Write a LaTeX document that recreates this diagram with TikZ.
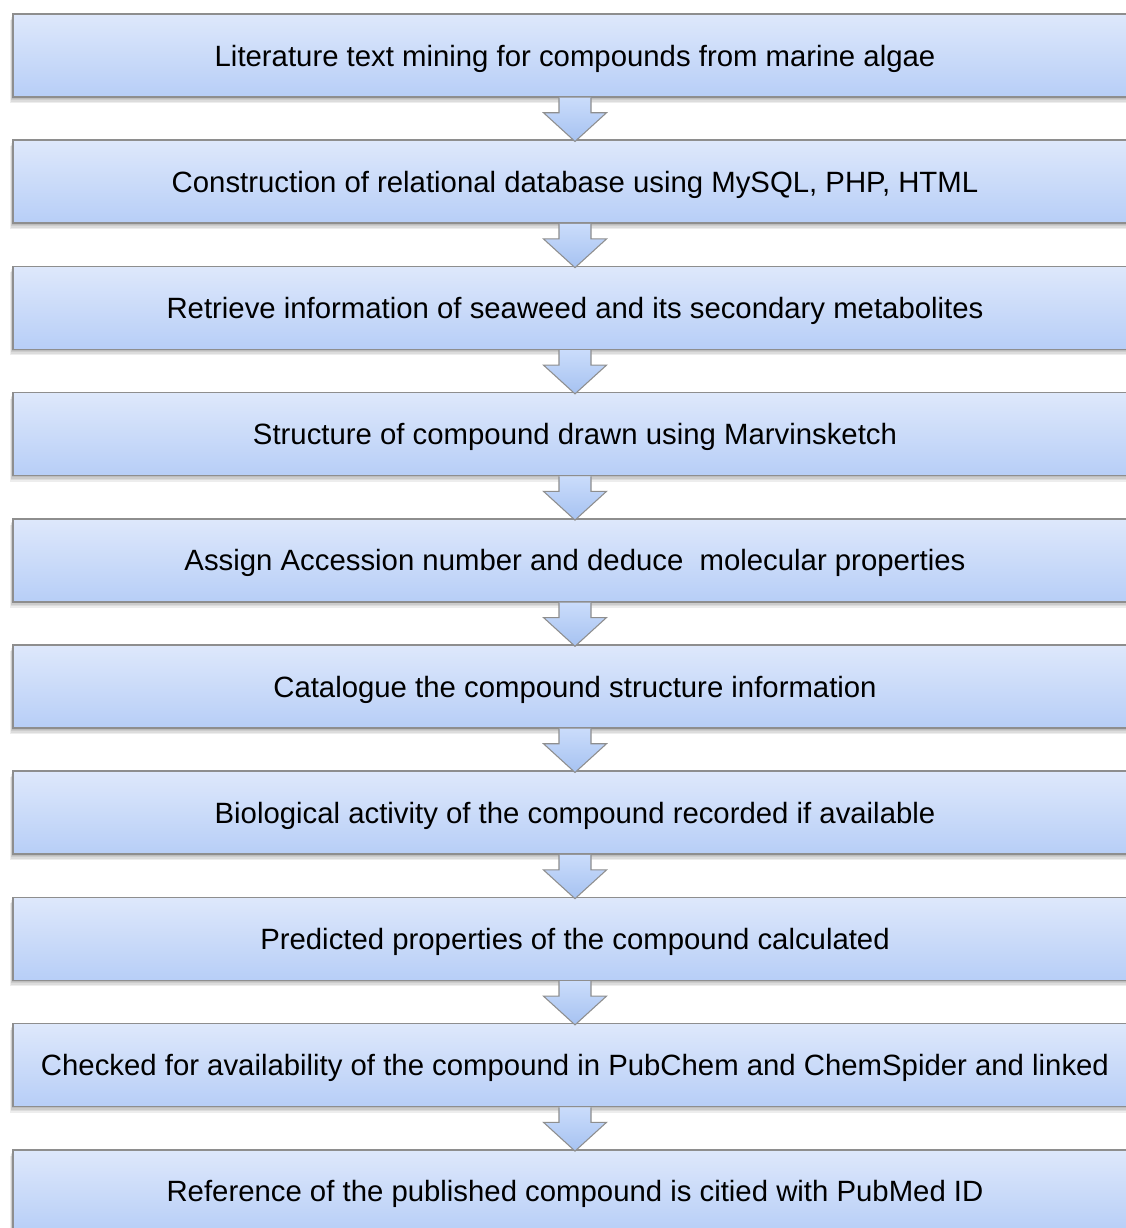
\documentclass[tikz,border=0pt]{standalone}
\usepackage{fontspec}
\setmainfont{Liberation Sans}
\usetikzlibrary{calc}
\definecolor{boxtop}{HTML}{DEE8FB}
\definecolor{boxbot}{HTML}{B7CEF7}
\definecolor{boxline}{HTML}{8E8E8E}
\definecolor{arrtop}{HTML}{CADCFB}
\definecolor{arrbot}{HTML}{A6C2F1}
\begin{document}
\begin{tikzpicture}[x=0.75pt,y=-0.75pt,
  stepbox/.style={rectangle, draw=boxline, line width=1.1pt,
    top color=boxtop, bottom color=boxbot,
    minimum width=843pt, minimum height=62.25pt, inner sep=0pt,
    text height=15.8pt, text depth=0pt,
    font=\fontsize{22pt}{26pt}\selectfont, text=black},
  flowarrow/.style={draw=boxline, line width=0.8pt, top color=arrtop, bottom color=arrbot},
  boxshadow/.style={fill=black, opacity=0.07}]
\useasboundingbox (0,0) rectangle (1126,1228);
\clip (0,0) rectangle (1126,1228);
\fill[white] (0,0) rectangle (1126,1228);

\def\steps{%
  Literature text mining for compounds from marine algae,
  {Construction of relational database using MySQL, PHP, HTML},
  Retrieve information of seaweed and its secondary metabolites,
  Structure of compound drawn using Marvinsketch,
  Assign Accession number and deduce\ \ molecular properties,
  Catalogue the compound structure information,
  Biological activity of the compound recorded if available,
  Predicted properties of the compound calculated,
  Checked for availability of the compound in PubChem and ChemSpider and linked,
  Reference of the published compound is citied with PubMed ID}

% soft shadows under the boxes
\foreach \i in {0,...,9} {
  \pgfmathsetmacro{\yc}{55.5+126.2*\i}
  \foreach \d in {1.5,3,4.5,6}
    \fill[boxshadow] (12-\d/3,\yc-41.5+\d) rectangle (1138,\yc+41.5+\d);
}

% the steps
\foreach [count=\n from 0] \t in \steps {
  \pgfmathsetmacro{\yc}{55.5+126.2*\n}
  \node[stepbox] (b\n) at (575,\yc) {\t};
}

% block arrows between consecutive steps
\foreach \i [evaluate=\i as \j using int(\i+1)] in {0,...,8} {
  \path[flowarrow]
    ($(b\i.south)+(-16,0)$) -- ($(b\i.south)+(-16,15)$) -- ($(b\i.south)+(-31.5,15)$)
    -- ($(b\j.north)+(0,2)$)
    -- ($(b\i.south)+(31.5,15)$) -- ($(b\i.south)+(16,15)$) -- ($(b\i.south)+(16,0)$);
}
\end{tikzpicture}
\end{document}
